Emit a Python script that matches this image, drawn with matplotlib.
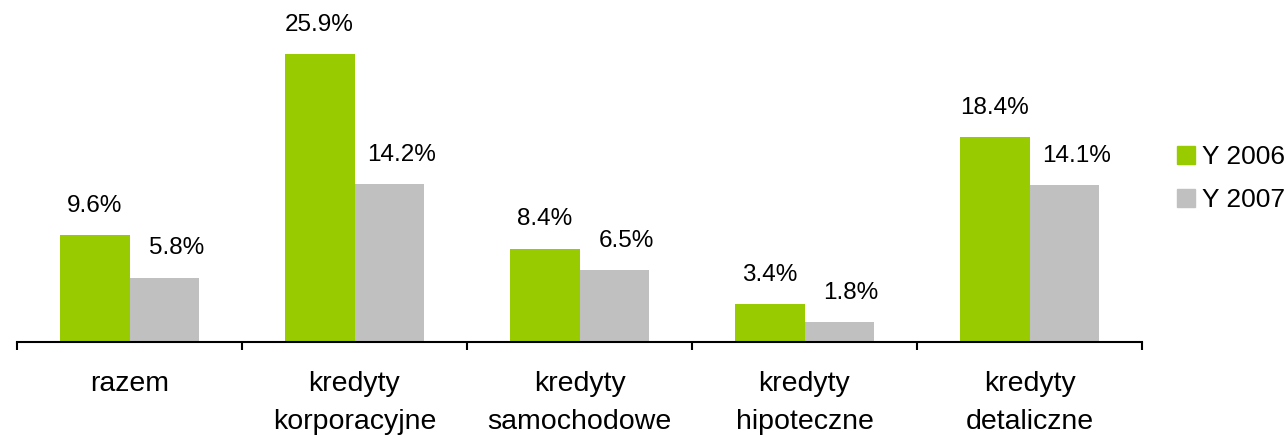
import matplotlib
matplotlib.use("Agg")
import matplotlib.pyplot as plt
from matplotlib.patches import Patch
import numpy as np

plt.rcParams["font.family"] = ["Liberation Sans", "DejaVu Sans"]

categories = ["razem", "kredyty\nkorporacyjne", "kredyty\nsamochodowe",
              "kredyty\nhipoteczne", "kredyty\ndetaliczne"]
y2006 = [9.6, 25.9, 8.4, 3.4, 18.4]
y2007 = [5.8, 14.2, 6.5, 1.8, 14.1]
series_names = ["Y 2006", "Y 2007"]

green = "#99CC00"
grey = "#C0C0C0"

fig = plt.figure(figsize=(12.86, 4.37), dpi=100)
ax = fig.add_axes([17/1286, 95/437, 1125/1286, 1 - 95/437 - 8.4/437])

x = np.arange(len(categories))
w = 0.31
b1 = ax.bar(x - w/2, y2006, w, color=green)
b2 = ax.bar(x + w/2, y2007, w, color=grey)

# grey labels sit a little to the right of their bars in the original
for bars, vals, dx in [(b1, y2006, 0), (b2, y2007, 8.5)]:
    for rect, v in zip(bars, vals):
        ax.annotate(f"{v:.1f}%", (rect.get_x() + rect.get_width()/2, v),
                    xytext=(dx, 21), textcoords="offset points",
                    ha="center", va="center", fontsize=17.5)

ax.set_xlim(-0.5, len(categories) - 0.5)
ax.set_ylim(0, 30)
ax.set_yticks([])
for s in ["top", "right", "left"]:
    ax.spines[s].set_visible(False)
ax.spines["bottom"].set_linewidth(1.5)

ax.set_xticks(x)
ax.set_xticklabels(categories, fontsize=20.5, linespacing=1.6)
ax.set_xticks(np.arange(-0.5, len(categories)), minor=True)
ax.tick_params(axis="x", which="major", length=0, pad=21)
ax.tick_params(axis="x", which="minor", length=6, width=1.5, direction="out")

handles = [Patch(color=green), Patch(color=grey)]
fig.legend(handles, series_names, loc="upper left",
           bbox_to_anchor=(1177/1286, 1 - 145/437), frameon=False,
           fontsize=19, handlelength=0.68, handleheight=0.68,
           handletextpad=0.25, labelspacing=0.72, borderpad=0, borderaxespad=0)

fig.savefig("out.png", dpi=100)
